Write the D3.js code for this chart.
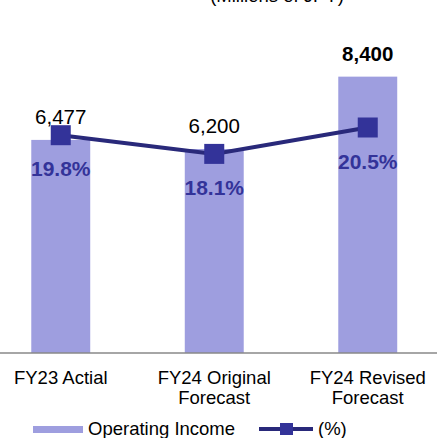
<!DOCTYPE html>
<html>
<head>
<meta charset="utf-8">
<script src="https://cdn.jsdelivr.net/npm/d3@7"></script>
<style>
  html, body { margin: 0; padding: 0; background: #fff; }
  #chart { width: 437px; height: 438px; }
  text { font-family: "Liberation Sans", Arial, sans-serif; }
</style>
</head>
<body>
<div id="chart"></div>
<script>
let categories = [["FY23 Actial"], ["FY24 Original", "Forecast"], ["FY24 Revised", "Forecast"]];
let income = [6477, 6200, 8400];
let incomeLabels = ["6,477", "6,200", "8,400"];
let margin = [19.8, 18.1, 20.5];
let marginLabels = ["19.8%", "18.1%", "20.5%"];

let draw = () => {
  d3.select("#chart").select("svg").remove();

  let width = 437;
  let height = 438;
  let base = 353;

  let svg = d3
    .select("#chart")
    .append("svg")
    .attr("width", width)
    .attr("height", height);

  let keys = categories.map((c) => c.join(" "));

  let xScale = d3
    .scaleBand()
    .domain(keys)
    .range([-16, 444.5])
    .paddingInner(0.616)
    .paddingOuter(0.308);

  let yScale = d3.scaleLinear().domain([0, 10000]).range([base, 24]);
  let pScale = d3.scaleLinear().domain([0, 25]).range([base, 78]);

  let data = keys.map((k, i) => ({
    key: k,
    lines: categories[i],
    income: income[i],
    incomeLabel: incomeLabels[i],
    pct: margin[i],
    pctLabel: marginLabels[i],
  }));

  let cx = (d) => xScale(d.key) + xScale.bandwidth() / 2;

  // unit note, partly cut off at the top (as in the source)
  svg
    .append("text")
    .attr("x", 277)
    .attr("y", 2)
    .attr("text-anchor", "middle")
    .attr("font-size", 18.5)
    .attr("fill", "#000")
    .text("(Millions of JPY)");

  svg
    .selectAll(".bar")
    .data(data)
    .enter()
    .append("rect")
    .attr("class", "bar")
    .attr("x", (d) => xScale(d.key))
    .attr("y", (d) => yScale(d.income))
    .attr("width", xScale.bandwidth())
    .attr("height", (d) => base - yScale(d.income))
    .attr("fill", "#9e9edf");

  // axis line
  svg
    .append("line")
    .attr("x1", 0)
    .attr("x2", width)
    .attr("y1", base)
    .attr("y2", base)
    .attr("stroke", "#888")
    .attr("stroke-width", 1.5);

  svg
    .selectAll(".inc-label")
    .data(data)
    .enter()
    .append("text")
    .attr("class", "inc-label")
    .attr("x", cx)
    .attr("y", (d) => yScale(d.income) - 16)
    .attr("text-anchor", "middle")
    .attr("font-size", 20.5)
    .attr("font-weight", (d, i) => (i === 2 ? "bold" : "normal"))
    .attr("fill", "#000")
    .text((d) => d.incomeLabel);

  let line = d3
    .line()
    .x(cx)
    .y((d) => pScale(d.pct));

  svg
    .append("path")
    .datum(data)
    .attr("d", line)
    .attr("fill", "none")
    .attr("stroke", "#29297a")
    .attr("stroke-width", 4);

  svg
    .selectAll(".marker")
    .data(data)
    .enter()
    .append("rect")
    .attr("class", "marker")
    .attr("x", (d) => cx(d) - 10)
    .attr("y", (d) => pScale(d.pct) - 10)
    .attr("width", 20)
    .attr("height", 20)
    .attr("fill", "#333399");

  svg
    .selectAll(".pct-label")
    .data(data)
    .enter()
    .append("text")
    .attr("class", "pct-label")
    .attr("x", cx)
    .attr("y", (d) => pScale(d.pct) + 41)
    .attr("text-anchor", "middle")
    .attr("font-size", 21)
    .attr("font-weight", "bold")
    .attr("fill", "#333399")
    .text((d) => d.pctLabel);

  // category labels
  let cat = svg
    .selectAll(".cat")
    .data(data)
    .enter()
    .append("text")
    .attr("class", "cat")
    .attr("text-anchor", "middle")
    .attr("font-size", 18.5)
    .attr("fill", "#000");

  cat
    .selectAll("tspan")
    .data((d) => d.lines.map((l) => ({ l, x: cx(d) })))
    .enter()
    .append("tspan")
    .attr("x", (t) => t.x)
    .attr("y", (t, i) => 384 + i * 20)
    .text((t) => t.l);

  // legend
  let legend = svg.append("g");
  legend
    .append("rect")
    .attr("x", 33)
    .attr("y", 426)
    .attr("width", 50)
    .attr("height", 7)
    .attr("fill", "#9e9edf");
  legend
    .append("text")
    .attr("x", 88)
    .attr("y", 435)
    .attr("font-size", 18.5)
    .text("Operating Income");
  legend
    .append("line")
    .attr("x1", 259)
    .attr("x2", 313)
    .attr("y1", 429)
    .attr("y2", 429)
    .attr("stroke", "#29297a")
    .attr("stroke-width", 4);
  legend
    .append("rect")
    .attr("x", 280)
    .attr("y", 423)
    .attr("width", 13)
    .attr("height", 12)
    .attr("fill", "#333399");
  legend
    .append("text")
    .attr("x", 318)
    .attr("y", 435)
    .attr("font-size", 18.5)
    .text("(%)");
};

draw();
</script>
</body>
</html>
